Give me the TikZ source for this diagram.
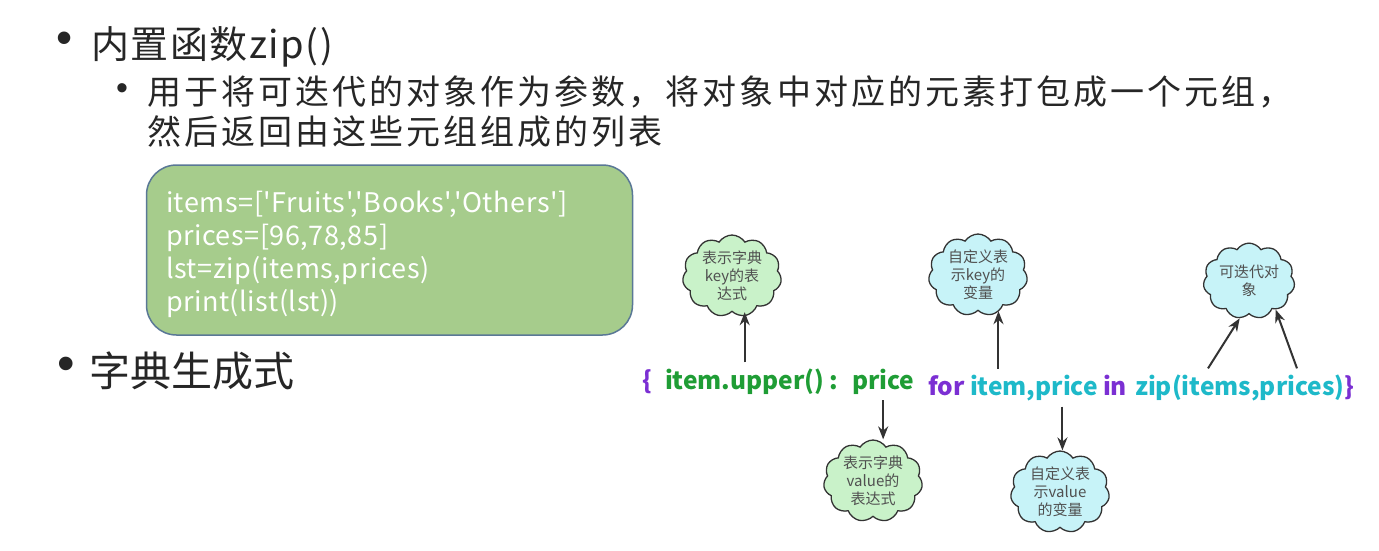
\documentclass[tikz,border=0pt]{standalone}
\usepackage{fontspec}
\setmainfont{Noto Sans CJK SC}
\newfontfamily\cjk{Noto Sans CJK SC}
\newfontfamily\bulletfont{Liberation Sans}
\usetikzlibrary{shapes.symbols,arrows.meta,calc}
\definecolor{maintext}{HTML}{262626}
\definecolor{boxfill}{HTML}{A6CC8C}
\definecolor{boxline}{HTML}{5A7896}
\definecolor{keygreen}{HTML}{1F9D35}
\definecolor{kwpurple}{HTML}{7B2FD3}
\definecolor{varcyan}{HTML}{1EB9C9}
\definecolor{cloudgreen}{HTML}{C9F2C9}
\definecolor{cloudcyan}{HTML}{C7F3F8}
\definecolor{cloudtext}{HTML}{505050}
\definecolor{arrowgray}{HTML}{333333}
\begin{document}
\begin{tikzpicture}[x=1pt,y=-1pt,
  txt/.style={inner sep=0pt,outer sep=0pt,text=maintext,anchor=base west},
  bul/.style={inner sep=0pt,outer sep=0pt,text=maintext,anchor=center},
  code/.style={inner sep=0pt,outer sep=0pt,text=white,anchor=base west,font=\cjk\fontsize{27}{32}\selectfont\addfontfeature{LetterSpace=2}},
  expr/.style={inner sep=0pt,outer sep=0pt,anchor=base west,font=\cjk\bfseries\fontsize{24.5}{28}\selectfont},
  note/.style={cloud,cloud puffs=11,cloud puff arc=115,aspect=1.3,draw=arrowgray,line width=1.3pt,
     inner sep=0pt,minimum width=84pt,minimum height=66pt,align=center,text=cloudtext,
     font=\cjk\fontsize{15}{18}\selectfont},
  gnote/.style={note,fill=cloudgreen},
  cnote/.style={note,fill=cloudcyan},
  pointer/.style={draw=arrowgray,line width=2pt,-{Stealth[length=13pt,width=10pt]}}]
\useasboundingbox[fill=white] (0,0) rectangle (1379,551);
% headings
\node[bul,font=\bulletfont\fontsize{46}{50}\selectfont] (b1) at (65,43) {•};
\node[txt,font=\cjk\fontsize{38}{44}\selectfont\addfontfeature{LetterSpace=4}] (title) at (91,59) {内置函数zip()};
\node[bul,font=\bulletfont\fontsize{34}{38}\selectfont] (b2) at (122,92) {•};
\node[txt,font=\cjk\fontsize{34}{40}\selectfont\addfontfeature{LetterSpace=9}] (sub1) at (147,104.6) {用于将可迭代的对象作为参数，将对象中对应的元素打包成一个元组，};
\node[txt,font=\cjk\fontsize{34}{40}\selectfont\addfontfeature{LetterSpace=9}] (sub2) at (147,144.6) {然后返回由这些元组组成的列表};
\node[bul,font=\bulletfont\fontsize{50}{54}\selectfont] (b3) at (66,369) {•};
\node[txt,font=\cjk\fontsize{41}{46}\selectfont] (dict) at (89,386.5) {字典生成式};
% code box
\node[draw=boxline,line width=1.5pt,fill=boxfill,rounded corners=30pt,minimum width=486pt,minimum height=170pt,inner sep=0pt] (codebox) at (389.5,250) {};
\node[code] (c1) at (166,212) {items=['Fruits','Books','Others']};
\node[code] (c2) at (166,245) {prices=[96,78,85]};
\node[code] (c3) at (166,278) {lst=zip(items,prices)};
\node[code] (c4) at (166,311) {print(list(lst))};
% expression
\node[expr,text=kwpurple] (lbrace) at (642,389) {\{};
\node[expr,text=keygreen] (key) at (665,389) {item.upper()};
\node[expr,text=keygreen] (colon) at (829,389) {:};
\node[expr,text=keygreen] (price) at (852,389) {price};
\node[expr,text=kwpurple] (for) at (928,395) {for};
\node[expr,text=varcyan] (itemv) at (970,395) {item};
\node[expr,text=varcyan] (pricev) at (itemv.base east) {,price};
\node[expr,text=kwpurple] (in) at (1103,395) {in};
\node[expr,text=varcyan] (zipe) at (1135,395) {zip(items,prices)};
\node[expr,text=kwpurple] (rbrace) at (zipe.base east) {\}};
% clouds
\node[gnote] (k) at (732,276) {表示字典\\key的表\\达式};
\node[cnote] (kv) at (978,275) {自定义表\\示key的\\变量};
\node[cnote] (it) at (1249,281) {可迭代对\\象};
\node[gnote] (v) at (873,481) {表示字典\\value的\\表达式};
\node[cnote] (vv) at (1060,492) {自定义表\\示value\\的变量};
% arrows
\coordinate (za) at ($(zipe.north west)+(73,-6)$);
\coordinate (zb) at ($(zipe.north west)+(162,-6)$);
\draw[pointer] ($(key.north)+(0,-6)$) -- (key.north |- k.south);
\draw[pointer] ($(itemv.north)+(0,-6)$) -- (itemv.north |- kv.south);
\draw[pointer] ($(price.south)+(0,6)$) -- (price.south |- v.north);
\draw[pointer] ($(pricev.south)+(0,6)$) -- (pricev.south |- vv.north);
\draw[pointer] (za) -- (it.-104);
\draw[pointer] (zb) -- (it.-47);
\end{tikzpicture}
\end{document}
